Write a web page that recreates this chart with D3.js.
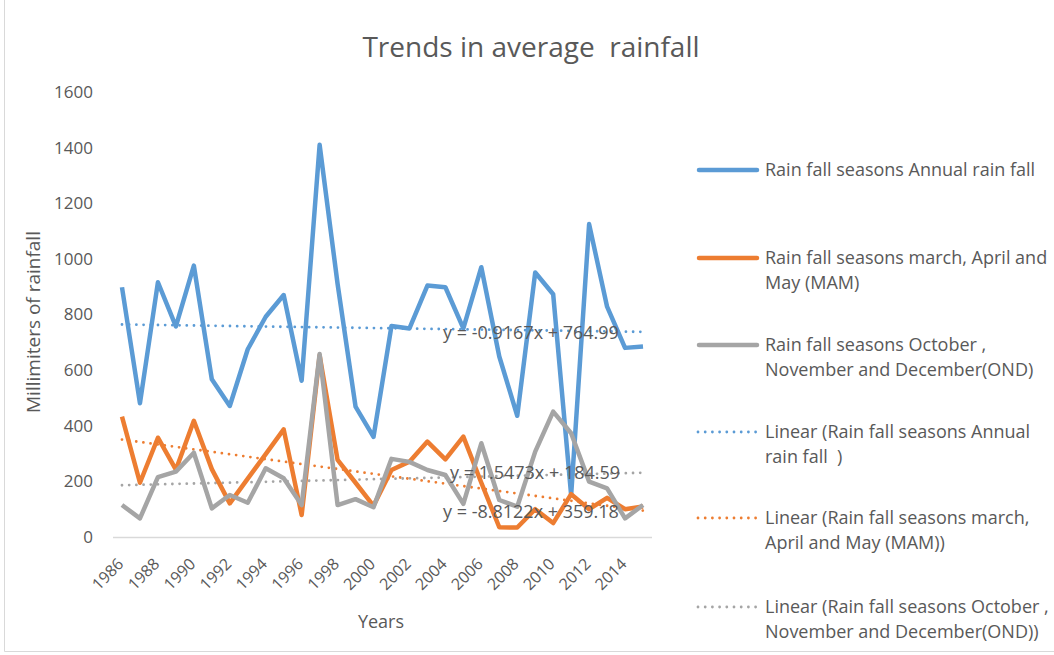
<!DOCTYPE html>
<html>
<head>
<meta charset="utf-8">
<script src="https://cdn.jsdelivr.net/npm/d3@7"></script>
<style>
  body { margin: 0; background: #fff; }
  svg { display: block; font-family: 'Open Sans', sans-serif; }
  svg text { white-space: pre; }
  .axis text { fill: #595959; }
</style>
</head>
<body>
<svg id="chart" width="1054" height="655"></svg>
<script>
const years = d3.range(1986, 2016);

const annual = [898, 481, 916, 757, 976, 567, 471, 675, 792, 870, 562, 1410, 910, 469, 360,
  759, 750, 904, 898, 750, 970, 649, 436, 951, 873, 151, 1125, 828, 680, 685];
const mam = [433, 195, 357, 242, 418, 244, 121, 210, 298, 387, 79, 653, 277, 195, 112,
  241, 271, 343, 279, 361, 195, 35, 34, 100, 50, 154, 100, 141, 100, 110];
const ond = [115, 67, 215, 235, 303, 103, 151, 123, 247, 211, 115, 658, 115, 136, 107,
  281, 270, 241, 223, 119, 337, 133, 109, 307, 451, 373, 199, 175, 67, 115];

// trend lines as printed on the chart: y = slope * x + intercept, x = 1..30
const trendSlope = [-0.9167, -8.8122, 1.5473];
const trendIntercept = [764.99, 359.18, 184.59];
const trendText = ['y = -0.9167x + 764.99', 'y = -8.8122x + 359.18', 'y = 1.5473x + 184.59'];

const seriesNames = [
  ['Rain fall seasons Annual rain fall'],
  ['Rain fall seasons march, April and', 'May (MAM)'],
  ['Rain fall seasons October ,', 'November and December(OND)'],
  ['Linear (Rain fall seasons Annual', 'rain fall  )'],
  ['Linear (Rain fall seasons march,', 'April and May (MAM))'],
  ['Linear (Rain fall seasons October ,', 'November and December(OND))'],
];
const colors = ['#5b9bd5', '#ed7d31', '#a5a5a5'];

const svg = d3.select('#chart');

// chart frame
svg.append('path')
  .attr('d', 'M4.5,0 V651.5 H1054')
  .attr('fill', 'none')
  .attr('stroke', '#d9d9d9');

const x = d3.scalePoint().domain(years).range([113, 652]).padding(0.5);
const y = d3.scaleLinear().domain([0, 1600]).range([537, 92]);

svg.append('text')
  .attr('x', 531).attr('y', 57)
  .attr('text-anchor', 'middle')
  .attr('fill', '#595959')
  .style('font-size', '28px')
  .text('Trends in average  rainfall');

// y axis
const yAxis = svg.append('g')
  .attr('class', 'axis')
  .attr('transform', 'translate(113,0)')
  .call(d3.axisLeft(y).tickValues(d3.range(0, 1601, 200)).tickFormat(d3.format('d')).tickSize(0).tickPadding(20));
yAxis.attr('font-family', null).attr('font-size', null);
yAxis.select('.domain').remove();
yAxis.selectAll('text').style('font-size', '17px');

// x axis
const xAxis = svg.append('g')
  .attr('class', 'axis')
  .attr('transform', 'translate(0,537)')
  .call(d3.axisBottom(x).tickValues(years.filter(v => (v - 1986) % 2 === 0)).tickSize(0));
xAxis.attr('font-family', null).attr('font-size', null);
xAxis.select('.domain')
  .attr('d', 'M113,0.5H652')
  .attr('stroke', '#d9d9d9')
  .attr('stroke-width', 1.5);
xAxis.selectAll('text')
  .style('font-size', '16px')
  .attr('text-anchor', 'end')
  .attr('dy', '0.35em')
  .attr('transform', 'translate(-4,22) rotate(-45)');

svg.append('text')
  .attr('x', 381).attr('y', 628)
  .attr('text-anchor', 'middle')
  .attr('fill', '#595959')
  .style('font-size', '18px')
  .text('Years');

svg.append('text')
  .attr('transform', 'translate(40,322) rotate(-90)')
  .attr('text-anchor', 'middle')
  .attr('fill', '#595959')
  .style('font-size', '19px')
  .text('Millimiters of rainfall');

const line = d3.line().x((d, i) => x(years[i])).y(d => y(d));

// trend lines
trendSlope.forEach((slope, k) => {
  const pts = years.map((yr, i) => slope * (i + 1) + trendIntercept[k]);
  svg.append('path')
    .datum(pts)
    .attr('d', line)
    .attr('fill', 'none')
    .attr('stroke', colors[k])
    .attr('stroke-width', 2.8)
    .attr('stroke-linecap', 'round')
    .attr('stroke-dasharray', '0 7.2');
});

// data lines, grey last so it sits on top
[annual, mam, ond].forEach((vals, k) => {
  svg.append('path')
    .datum(vals)
    .attr('d', line)
    .attr('fill', 'none')
    .attr('stroke', colors[k])
    .attr('stroke-width', 4.5)
    .attr('stroke-linejoin', 'round');
});

// trend equations
const eqPos = [[443, 339], [443, 518], [450, 479]];
trendText.forEach((t, k) => {
  svg.append('text')
    .attr('x', eqPos[k][0]).attr('y', eqPos[k][1])
    .attr('fill', '#595959')
    .style('font-size', '18px')
    .text(t);
});

// legend
const legendY = [170, 258, 345, 432, 518, 607];
const legend = svg.append('g');
seriesNames.forEach((lines, i) => {
  const k = i % 3;
  const dotted = i >= 3;
  legend.append('line')
    .attr('x1', dotted ? 698 : 699).attr('x2', 757)
    .attr('y1', legendY[i]).attr('y2', legendY[i])
    .attr('stroke', colors[k])
    .attr('stroke-width', dotted ? 2.8 : 4.5)
    .attr('stroke-linecap', 'round')
    .attr('stroke-dasharray', dotted ? '0 7.2' : null);
  const txt = legend.append('text')
    .attr('x', 765).attr('y', legendY[i])
    .attr('fill', '#595959')
    .style('font-size', '18px');
  lines.forEach((l, j) => {
    txt.append('tspan')
      .attr('x', 765)
      .attr('y', legendY[i] + j * 24.5)
      .attr('dy', '0.35em')
      .text(l);
  });
});
</script>
</body>
</html>
